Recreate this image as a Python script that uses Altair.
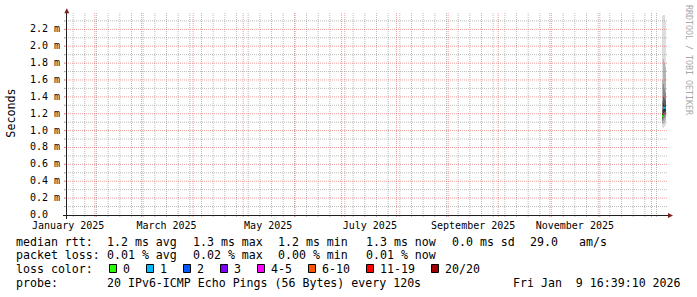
import altair as alt
import pandas as pd
import numpy as np

# ---------------- data ----------------
range_start = "2025-01-14T16:39:10Z"
range_end = "2026-01-09T16:39:10Z"

slot_start = ["2026-01-07T07:03:10Z", "2026-01-07T21:27:10Z", "2026-01-08T11:51:10Z", "2026-01-09T02:15:10Z"]
slot_end = ["2026-01-07T21:27:10Z", "2026-01-08T11:51:10Z", "2026-01-09T02:15:10Z", "2026-01-09T16:39:10Z"]

# smoke (ms), outer band -> inner band
ping_min = [1.04, 1.03, 1.05, 1.06]
ping_max = [2.36, 2.37, 2.37, 2.30]
ping_p10 = [1.08, 1.08, 1.10, 1.12]
ping_p90 = [1.60, 1.85, 1.80, 1.75]
ping_p25 = [1.11, 1.13, 1.15, 1.17]
ping_p75 = [1.35, 1.55, 1.50, 1.45]
ping_p40 = [1.14, 1.18, 1.19, 1.20]
ping_p60 = [1.24, 1.40, 1.38, 1.36]
ping_p45 = [1.15, 1.21, 1.22, 1.23]
ping_p55 = [1.20, 1.32, 1.31, 1.30]
median_rtt = [1.17, 1.27, 1.27, 1.27]
lost_pings = [0, 1, 1, 1]

smoke_shades = ["#dddddd", "#b4b4b4", "#8a8a8a", "#5f5f5f", "#353535"]

loss_labels = ["0", "1", "2", "3", "4-5", "6-10", "11-19", "20/20"]
loss_colors = ["#26ff00", "#00b8ff", "#0059ff", "#7e00ff", "#ff00ff", "#ff5500", "#ff0000", "#a10000"]

rtt_names = ["avg", "max", "min", "now"]
rtt_values = [1.2, 1.3, 1.2, 1.3]
rtt_sd = 0.0
rtt_ams = 29.0
loss_values = [0.01, 0.02, 0.00, 0.01]
probe_text = "20 IPv6-ICMP Echo Pings (56 Bytes) every 120s"
stamp_text = "Fri Jan  9 16:39:10 2026"
watermark = "RRDTOOL / TOBI OETIKER"
x_label_months = ["2025-01-16", "2025-03-16", "2025-05-16", "2025-07-16", "2025-09-16", "2025-11-16"]
y_label_values = [0.0, 0.2, 0.4, 0.6, 0.8, 1.0, 1.2, 1.4, 1.6, 1.8, 2.0, 2.2]

y_max = 2.37

# ---------------- layout ----------------
LEFT, TOP, W, H = 66, 15, 600, 200
RIGHT, BOTTOM = 697 - LEFT - W, 297 - TOP - H
MONO = "DejaVu Sans Mono"
GRID = "rgba(143,143,143,0.6)"
MGRID = "rgba(222,79,79,0.55)"
ARROW = "#801f1f"
AXIS = "#1f1f1f"
LEG_FS = 11.6


def ms(s):
    return int(pd.Timestamp(s).value // 10**6)


def nb(s):
    return s.replace(" ", "\u00a0")


def loss_label(n):
    if n <= 3:
        return str(n)
    if n <= 5:
        return "4-5"
    if n <= 10:
        return "6-10"
    if n <= 19:
        return "11-19"
    return "20/20"


xs = alt.Scale(type="utc", domain=[ms(range_start), ms(range_end)])
ys = alt.Scale(domain=[0, y_max], nice=False, zero=False)

# smoke table
bands = [(ping_min, ping_max), (ping_p10, ping_p90), (ping_p25, ping_p75),
         (ping_p40, ping_p60), (ping_p45, ping_p55)]
rows = []
for lvl, (lo, hi) in enumerate(bands):
    for i in range(len(slot_start)):
        rows.append({"t0": slot_start[i], "t1": slot_end[i], "lo": lo[i], "hi": hi[i],
                     "shade": smoke_shades[lvl], "lvl": lvl})
smoke_df = pd.DataFrame(rows)

color_of = dict(zip(loss_labels, loss_colors))
med_df = pd.DataFrame({"t0": slot_start, "t1": slot_end, "m": median_rtt,
                       "c": [color_of[loss_label(n)] for n in lost_pings]})

smoke = alt.Chart(smoke_df).mark_rect(strokeWidth=0).encode(
    x=alt.X("t0:T", scale=xs, axis=None),
    x2="t1:T",
    y=alt.Y("lo:Q", scale=ys, axis=None),
    y2="hi:Q",
    fill=alt.Fill("shade:N", scale=None),
)

median = alt.Chart(med_df).mark_rule(strokeWidth=2, strokeCap="butt").encode(
    x=alt.X("t0:T", scale=xs, axis=None),
    x2="t1:T",
    y=alt.Y("m:Q", scale=ys, axis=None),
    stroke=alt.Stroke("c:N", scale=None),
)

# axis labels drawn through the scales
xlab_df = pd.DataFrame({"t": [s + "T00:00:00Z" for s in x_label_months],
                        "lab": [pd.Timestamp(s).strftime("%B %Y") for s in x_label_months]})
x_labels = alt.Chart(xlab_df).mark_text(font=MONO, fontSize=10, align="center",
                                        baseline="alphabetic", color="black").encode(
    x=alt.X("t:T", scale=xs, axis=None), y=alt.value(H + 13.5),
    text=alt.Text("lab:N"))
ylab_df = pd.DataFrame({"v": y_label_values,
                        "lab": [("0.0" if v == 0 else f"{v:.1f} m") for v in y_label_values]})
y_labels = alt.Chart(ylab_df).mark_text(font=MONO, fontSize=10, align="left",
                                        baseline="middle", color="black").encode(
    y=alt.Y("v:Q", scale=ys, axis=None), x=alt.value(30 - LEFT), text="lab:N")

# grid
minor_y = [round(0.1 * k, 1) for k in range(1, 24) if k % 2 == 1]
major_y = [round(0.2 * k, 1) for k in range(1, 12)]
minor_t = [d.strftime("%Y-%m-%dT00:00:00Z") for d in
           pd.date_range("2025-01-15", "2026-01-09", freq="W-SUN")]
major_t = [d.strftime("%Y-%m-%dT00:00:00Z") for d in
           pd.date_range("2025-02-01", "2026-01-09", freq="MS")]


def hgrid(vals, col):
    base = alt.Chart(pd.DataFrame({"v": vals}))
    dashed = base.mark_rule(color=col, strokeDash=[1, 1], strokeWidth=1).encode(
        y=alt.Y("v:Q", scale=ys, axis=None), x=alt.value(-2), x2=alt.value(W + 2))
    tick = base.mark_rule(color=col, strokeWidth=1).encode(
        y=alt.Y("v:Q", scale=ys, axis=None), x=alt.value(-2), x2=alt.value(0))
    return [dashed, tick]


def vgrid(vals, col):
    base = alt.Chart(pd.DataFrame({"t": vals}))
    dashed = base.mark_rule(color=col, strokeDash=[1, 1], strokeWidth=1).encode(
        x=alt.X("t:T", scale=xs, axis=None), y=alt.value(-2), y2=alt.value(H + 2))
    tick = base.mark_rule(color=col, strokeWidth=1).encode(
        x=alt.X("t:T", scale=xs, axis=None), y=alt.value(H), y2=alt.value(H + 2))
    return [dashed, tick]


one = pd.DataFrame({"a": [0]})
x_line = alt.Chart(one).mark_rule(color=AXIS, strokeWidth=1).encode(
    x=alt.value(-3), x2=alt.value(W + 2), y=alt.value(H + 0.5))
y_line = alt.Chart(one).mark_rule(color=AXIS, strokeWidth=1).encode(
    x=alt.value(0.5), y=alt.value(H + 4), y2=alt.value(-3))
arrow_r = alt.Chart(one).mark_point(shape="M-1,-1L1,0L-1,1Z", filled=True, size=25,
                                    color=ARROW, opacity=1).encode(
    x=alt.value(W + 4.5), y=alt.value(H + 0.5))
arrow_u = alt.Chart(one).mark_point(shape="M-1,1L0,-1L1,1Z", filled=True, size=25,
                                    color=ARROW, opacity=1).encode(
    x=alt.value(0.8), y=alt.value(-4.3))

# legend texts
stat_x = [107, 193, 278, 366]
base_y = [245.5, 259.4, 273.3, 287.2]
tx = []
tx.append((16, base_y[0], "median rtt:"))
for i, (n, v) in enumerate(zip(rtt_names, rtt_values)):
    tx.append((stat_x[i], base_y[0], f"{v:.1f} ms {n}"))
tx.append((452, base_y[0], f"{rtt_sd:.1f} ms sd"))
tx.append((530, base_y[0], f"{rtt_ams:.1f}"))
tx.append((579, base_y[0], "am/s"))
tx.append((16, base_y[1], "packet loss:"))
for i, (n, v) in enumerate(zip(rtt_names, loss_values)):
    tx.append((stat_x[i], base_y[1], f"{v:.2f} % {n}"))
tx.append((16, base_y[2], "loss color:"))
sw = []
cx = 109
for lab, col in zip(loss_labels, loss_colors):
    sw.append({"x0": cx + 0.5 - LEFT, "x1": cx + 7.5 - LEFT,
               "y0": 264.5 - TOP, "y1": 272.5 - TOP, "fillc": col})
    tx.append((cx + 14, base_y[2], lab))
    cx += 30 + 7 * len(lab)
tx.append((16, base_y[3], "probe:"))
tx.append((107, base_y[3], probe_text))
tx.append((513, base_y[3], stamp_text))
text_df = pd.DataFrame({"px": [t[0] - LEFT for t in tx], "py": [t[1] - TOP for t in tx],
                        "label": [nb(t[2]) for t in tx]})

legend_text = alt.Chart(text_df).mark_text(font=MONO, fontSize=LEG_FS, align="left",
                                           baseline="alphabetic", color="black").encode(
    x=alt.X("px:Q", scale=None, axis=None), y=alt.Y("py:Q", scale=None, axis=None),
    text="label:N")
swatches = alt.Chart(pd.DataFrame(sw)).mark_rect(stroke="black", strokeWidth=1).encode(
    x=alt.X("x0:Q", scale=None, axis=None), x2="x1:Q",
    y=alt.Y("y0:Q", scale=None, axis=None), y2="y1:Q",
    fill=alt.Fill("fillc:N", scale=None))

y_title = alt.Chart(one).mark_text(text="Seconds", font=MONO, fontSize=11.7, angle=270,
                                   align="center", baseline="middle", color="black").encode(
    x=alt.value(11 - LEFT), y=alt.value(113 - TOP))
wm = alt.Chart(one).mark_text(text=watermark, font=MONO, fontSize=8.3, angle=90,
                              align="left", baseline="middle", color="#a8a8a8").encode(
    x=alt.value(688 - LEFT), y=alt.value(5 - TOP))

layers = [smoke, median] + hgrid(minor_y, GRID) + vgrid(minor_t, GRID) \
    + hgrid(major_y, MGRID) + vgrid(major_t, MGRID) \
    + [x_line, y_line, arrow_r, arrow_u, x_labels, y_labels,
       legend_text, swatches, y_title, wm]

chart = alt.layer(*layers).properties(
    width=W, height=H,
    autosize=alt.AutoSizeParams(type="none"),
    padding={"left": LEFT, "top": TOP, "right": RIGHT, "bottom": BOTTOM},
    background="white",
).configure_view(stroke=None)

chart.save("out.html", embed_options={"renderer": "svg", "actions": False})
